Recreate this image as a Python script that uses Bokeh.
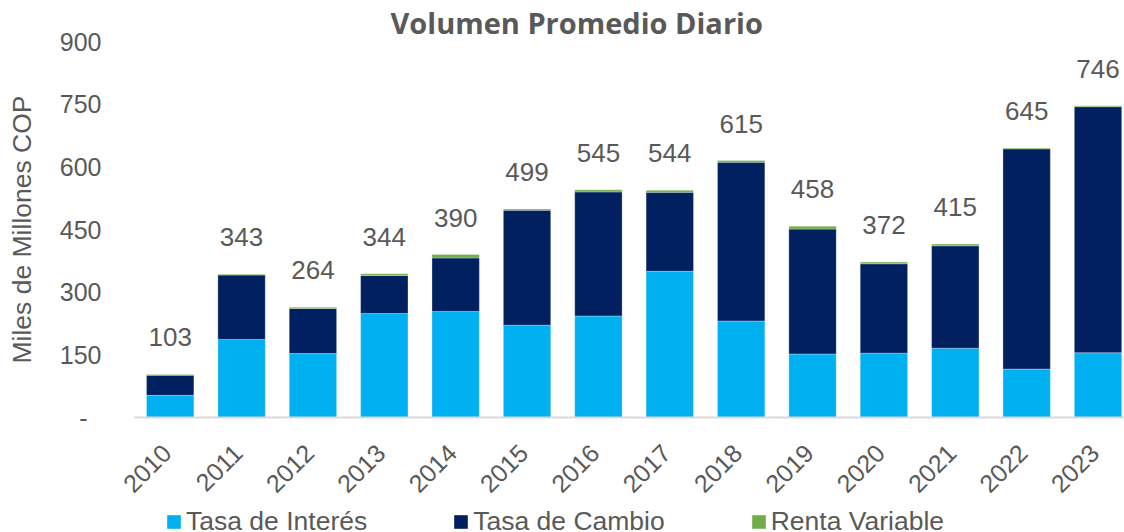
import math
from bokeh.plotting import figure
from bokeh.layouts import column
from bokeh.models import (Range1d, FixedTicker, Legend, LegendItem,
                          ColumnDataSource)
from bokeh.core.properties import value
from bokeh.embed import file_html
from bokeh.resources import INLINE

# ---------------- data ----------------
years = [2010, 2011, 2012, 2013, 2014, 2015, 2016, 2017, 2018, 2019, 2020, 2021, 2022, 2023]
year_labels = [str(y) for y in years]
tasa_interes = [53, 187, 153, 249, 254, 221, 243, 350, 231, 152, 154, 166, 116, 155]
tasa_cambio = [48, 154, 108, 91, 128, 275, 297, 189, 380, 299, 214, 245, 527, 589]
renta_variable = [2, 2, 3, 4, 8, 3, 5, 5, 4, 7, 4, 4, 2, 2]
totals = [103, 343, 264, 344, 390, 499, 545, 544, 615, 458, 372, 415, 645, 746]
y_ticks = [0, 150, 300, 450, 600, 750, 900]
series_names = ["Tasa de Interés", "Tasa de Cambio", "Renta Variable"]
title_text = "Volumen Promedio Diario"
y_title = "Miles de Millones COP"

# ---------------- style ----------------
GRAY = "#595959"
COLORS = ["#00B0F0", "#002060", "#70AD47"]
FONT = "Liberation Sans"

source = ColumnDataSource(dict(
    year=years, ti=tasa_interes, tc=tasa_cambio, rv=renta_variable,
    total=totals, label=[str(t) for t in totals],
))

p = figure(width=1124, height=508, output_backend="svg", toolbar_location=None,
           x_range=Range1d(2009.5, 2023.371), y_range=Range1d(0, 900),
           min_border_left=134, min_border_right=0, min_border_top=41,
           min_border_bottom=91)
p.outline_line_color = None
p.xgrid.visible = False
p.ygrid.visible = False
p.background_fill_color = "white"
p.border_fill_color = "white"

# title
p.title.text = title_text
p.title.text_font = "Open Sans"
p.title.text_font_style = "bold"
p.title.text_font_size = "29px"
p.title.text_color = GRAY
p.title.align = "left"
p.title.offset = 256
p.title.standoff = 0
p.title.vertical_align = "bottom"

renderers = p.vbar_stack(["ti", "tc", "rv"], x="year", width=0.664, source=source,
                         color=COLORS, line_color="white", line_width=0.6,
                         line_alpha=0.5)

p.text(x="year", y="total", text="label", source=source,
       text_font=value(FONT), text_font_size=value("26px"), text_color=GRAY,
       text_align="center", text_baseline="alphabetic", y_offset=-37)

# y axis
p.yaxis.ticker = FixedTicker(ticks=y_ticks)
p.yaxis.major_label_overrides = {0: "-\u00a0\u00a0"}
p.yaxis.axis_line_color = None
p.yaxis.major_tick_line_color = None
p.yaxis.minor_tick_line_color = None
p.yaxis.major_tick_out = 0
p.yaxis.major_tick_in = 0
p.yaxis.minor_tick_out = 0
p.yaxis.major_label_text_font = FONT
p.yaxis.major_label_text_font_size = "25px"
p.yaxis.major_label_text_color = GRAY
p.yaxis.major_label_standoff = 33
p.yaxis.axis_label = y_title
p.yaxis.axis_label_text_font = FONT
p.yaxis.axis_label_text_font_size = "26.5px"
p.yaxis.axis_label_text_font_style = "normal"
p.yaxis.axis_label_text_color = GRAY
p.yaxis.axis_label_standoff = 20

# x axis (labels on a slightly shifted range so they sit like the original)
p.extra_x_ranges = {"lab": Range1d(2009.5 + 0.05, 2023.371 + 0.05)}
xax = p.xaxis[0]
xax.x_range_name = "lab"
xax.ticker = FixedTicker(ticks=years)
xax.major_label_overrides = {y: l for y, l in zip(years, year_labels)}
xax.major_label_orientation = math.pi / 4
xax.major_label_text_font = FONT
xax.major_label_text_font_size = "25px"
xax.major_label_text_color = GRAY
xax.major_label_standoff = 31
xax.axis_line_color = "#D9D9D9"
xax.axis_line_width = 2
xax.major_tick_line_color = None
xax.minor_tick_line_color = None
xax.major_tick_out = 0
xax.major_tick_in = 0
xax.minor_tick_out = 0

# legend strip (separate small figure under the chart; its bars fall outside its view)
lf = figure(width=1124, height=24, output_backend="svg", toolbar_location=None,
            x_range=Range1d(0, 1), y_range=Range1d(0, 1), min_border=0,
            x_axis_location=None, y_axis_location=None)
lf.outline_line_color = None
lf.xgrid.visible = False
lf.ygrid.visible = False
lf.title.visible = False
keys = lf.vbar_stack(["ti", "tc", "rv"], x="year", width=0.664, source=source,
                     color=COLORS, line_color=None)
legend = Legend(items=[LegendItem(label=n, renderers=[r]) for n, r in zip(series_names, keys)],
                orientation="horizontal", location=(31, -5),
                label_text_font=FONT, label_text_font_size="26.5px",
                label_text_color=GRAY, glyph_width=17, glyph_height=17,
                label_standoff=4, spacing=85, padding=0, margin=0,
                border_line_color=None, background_fill_alpha=0)
lf.add_layout(legend, "center")

layout = column(p, lf, spacing=0)
open("out.html", "w").write(file_html(layout, INLINE))
